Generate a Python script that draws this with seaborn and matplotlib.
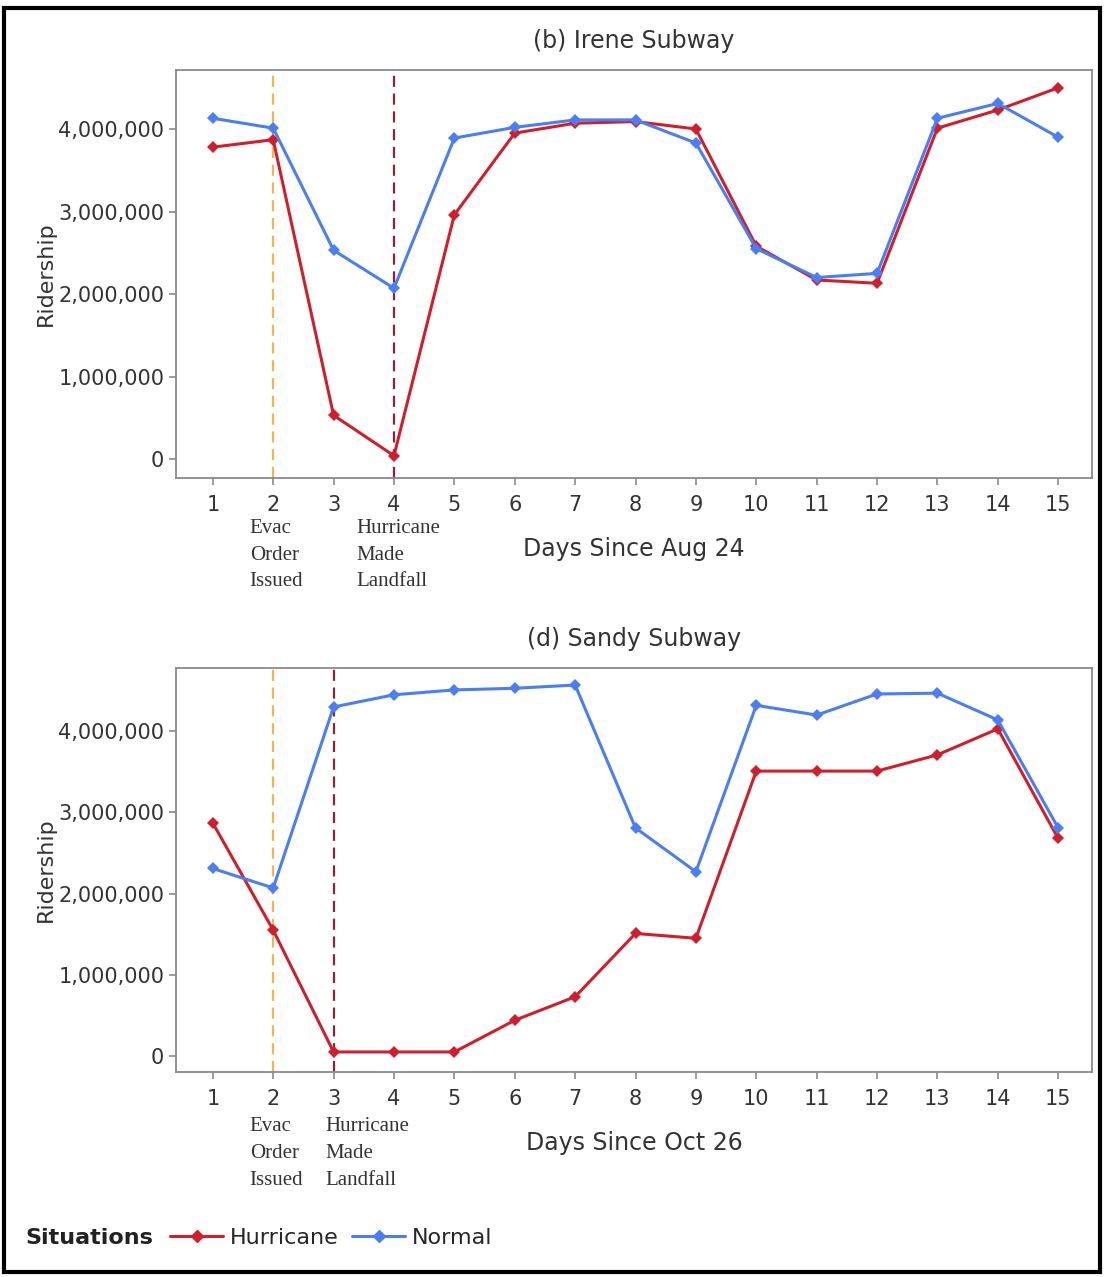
import matplotlib
matplotlib.use("Agg")
import matplotlib.pyplot as plt
import matplotlib.ticker as mticker
from matplotlib.patches import Rectangle
import seaborn as sns
import pandas as pd

# ridership in millions
days = list(range(1, 16))
irene_hurricane = [3.78, 3.87, 0.53, 0.04, 2.96, 3.95, 4.07, 4.09, 4.00, 2.58, 2.17, 2.13, 4.01, 4.23, 4.50]
irene_normal = [4.13, 4.01, 2.53, 2.07, 3.89, 4.02, 4.11, 4.11, 3.83, 2.55, 2.20, 2.25, 4.13, 4.31, 3.90]
sandy_hurricane = [2.87, 1.55, 0.05, 0.05, 0.05, 0.44, 0.73, 1.51, 1.45, 3.51, 3.51, 3.51, 3.71, 4.03, 2.68]
sandy_normal = [2.31, 2.07, 4.30, 4.45, 4.51, 4.53, 4.57, 2.81, 2.27, 4.32, 4.20, 4.46, 4.47, 4.14, 2.81]

# title, x label, series, evac day, landfall day, text x positions (data units)
panels = [
    ("(b) Irene Subway", "Days Since Aug 24", irene_hurricane, irene_normal, 2, 4, 1.61, 3.37),
    ("(d) Sandy Subway", "Days Since Oct 26", sandy_hurricane, sandy_normal, 2, 3, 1.61, 2.87),
]

RED = "#d01f2c"
BLUE = "#4a7ef2"
palette = {"Hurricane": RED, "Normal": BLUE}

sns.set_style("ticks")
plt.rcParams["font.family"] = ["DejaVu Sans"]
plt.rcParams["axes.edgecolor"] = "#8a8a8a"
plt.rcParams["xtick.color"] = "#8a8a8a"
plt.rcParams["ytick.color"] = "#8a8a8a"
plt.rcParams["xtick.labelcolor"] = "#333333"
plt.rcParams["ytick.labelcolor"] = "#333333"

fig = plt.figure(figsize=(11.04, 12.77), dpi=100)
W, H = 1104, 1277
boxes = [(176, 70, 1092, 478), (176, 668, 1092, 1072)]
ylims = [(-0.23e6, 4.715e6), (-0.197e6, 4.78e6)]
note_y = [-0.1, -0.112]

for (title, xlabel, hurr, norm, evac, land, tx1, tx2), (l, t, r, b), ylim, ny in zip(panels, boxes, ylims, note_y):
    ax = fig.add_axes([l / W, 1 - b / H, (r - l) / W, (b - t) / H])
    df = pd.DataFrame({
        "day": days + days,
        "ridership": [v * 1e6 for v in hurr + norm],
        "Situation": ["Hurricane"] * len(days) + ["Normal"] * len(days),
    })
    ax.axvline(evac, color="#f6b355", ls=(0, (5, 3)), lw=1.6, zorder=1)
    ax.axvline(land, color="#8a2438", ls=(0, (5, 3)), lw=1.6, zorder=1)
    sns.lineplot(data=df, x="day", y="ridership", hue="Situation", palette=palette,
                 marker="D", markersize=6, markeredgewidth=0, linewidth=2.2,
                 legend=False, ax=ax, zorder=3)
    ax.set_xlim(0.39, 15.56)
    ax.set_ylim(*ylim)
    ax.set_xticks(days)
    ax.set_yticks([0, 1e6, 2e6, 3e6, 4e6])
    ax.yaxis.set_major_formatter(mticker.FuncFormatter(lambda v, p: f"{int(v):,}"))
    ax.tick_params(labelsize=15, length=5, width=1.2)
    ax.tick_params(axis="x", pad=7)
    for s in ax.spines.values():
        s.set_visible(True)
        s.set_linewidth(1.3)
    ax.set_title(title, fontsize=17, color="#333333", pad=16)
    ax.set_xlabel(xlabel, fontsize=17, color="#333333", labelpad=16)
    ax.set_ylabel("Ridership", fontsize=16, color="#333333", labelpad=2)
    trans = ax.get_xaxis_transform()
    ax.text(tx1, ny, "Evac\nOrder\nIssued", transform=trans, va="top", ha="left",
            family="Liberation Serif", fontsize=15, color="#333333", linespacing=1.55)
    ax.text(tx2, ny, "Hurricane\nMade\nLandfall", transform=trans, va="top", ha="left",
            family="Liberation Serif", fontsize=15, color="#333333", linespacing=1.55)

# legend along the bottom
fig.text(25 / W, 1 - 1238 / H, "Situations", fontsize=16, weight="bold", color="#222222", va="center")
handles = [plt.Line2D([], [], color=palette[k], marker="D", markersize=6, lw=2.2) for k in palette]
fig.legend(handles, list(palette), loc="center left", bbox_to_anchor=(150 / W, 1 - 1238 / H),
           ncol=2, frameon=False, fontsize=16, handlelength=2.4, handletextpad=0.3,
           columnspacing=0.6)

fig.patches.append(Rectangle((0.004, 0.004), 0.992, 0.99, transform=fig.transFigure,
                             fill=False, edgecolor="black", lw=3))

fig.savefig("out.png", dpi=100)
